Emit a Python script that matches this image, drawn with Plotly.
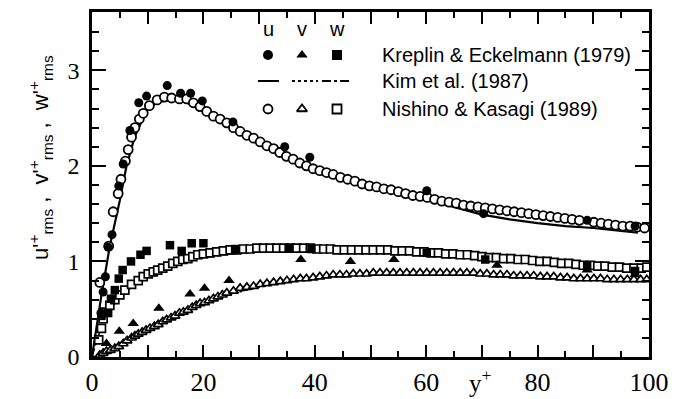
import plotly.graph_objects as go

# ---------------- data ----------------
# Kreplin & Eckelmann (1979) - filled symbols
ke_u_x = [1.6, 2.0, 2.4, 2.9, 3.6, 4.8, 5.6, 6.8, 8.4, 9.8, 13.5, 15.9, 17.7, 19.8, 25.3, 34.6, 39.1, 60.1, 70.3, 88.9, 97.5]
ke_u_y = [0.46, 0.68, 0.84, 1.15, 1.28, 1.79, 2.02, 2.37, 2.66, 2.73, 2.84, 2.76, 2.76, 2.68, 2.46, 2.20, 2.09, 1.74, 1.50, 1.43, 1.37]
ke_v_x = [2.6, 4.9, 7.4, 12.0, 17.6, 20.2, 24.6, 37.5, 46.4, 54.2, 72.7, 88.9, 97.5]
ke_v_y = [0.14, 0.27, 0.35, 0.51, 0.66, 0.72, 0.80, 1.02, 1.00, 1.02, 0.96, 0.91, 0.86]
ke_w_x = [1.7, 2.9, 3.4, 4.1, 4.8, 5.5, 7.0, 8.7, 9.8, 14.0, 16.1, 17.9, 20.0, 25.7, 35.3, 39.4, 60.1, 70.6, 88.9, 97.5]
ke_w_y = [0.43, 0.46, 0.61, 0.70, 0.82, 0.91, 1.00, 1.07, 1.11, 1.17, 1.11, 1.19, 1.19, 1.13, 1.14, 1.13, 1.09, 1.02, 0.95, 0.90]

# Kim et al. (1987) - lines
kim_u_x = [0, 0.8, 1.7, 3.2, 5.0, 6.2, 7.7, 9.8, 11.8, 14.2, 16.0, 18.0, 20.0, 25.0, 30.0, 35.0, 40.0, 45.0, 50.0, 55.0, 60.0, 65.0, 70.0, 75.0, 80.0, 85.0, 90.0, 95.0, 98.0]
kim_u_y = [0, 0.30, 0.65, 1.16, 1.64, 2.00, 2.31, 2.58, 2.67, 2.69, 2.68, 2.64, 2.58, 2.40, 2.24, 2.10, 1.98, 1.88, 1.80, 1.73, 1.65, 1.57, 1.49, 1.44, 1.40, 1.37, 1.35, 1.32, 1.30]
kim_v_x = [0, 2, 5, 10, 15, 20, 25, 30, 40, 50, 60, 70, 80, 90, 98]
kim_v_y = [0, 0.03, 0.12, 0.30, 0.45, 0.56, 0.66, 0.73, 0.83, 0.87, 0.88, 0.87, 0.85, 0.82, 0.79]
kim_w_x = [0, 1, 2, 4, 6, 8, 10, 15, 20, 25, 30, 40, 50, 60, 70, 80, 90, 98]
kim_w_y = [0, 0.20, 0.35, 0.55, 0.68, 0.77, 0.84, 0.96, 1.04, 1.08, 1.10, 1.11, 1.10, 1.08, 1.04, 1.00, 0.96, 0.92]

# Nishino & Kasagi (1989) - open symbols
nk_u_x = [1.4, 3.0, 3.8, 4.7, 5.2, 6.0, 6.5, 7.1, 7.7, 8.5, 9.2, 10.3, 11.7, 13.0, 14.3, 15.7, 17.0, 18.2, 19.4, 20.6,
          21.8, 23.0, 24.2, 25.4, 26.6, 27.8, 29.0, 30.2, 31.4, 32.6, 33.7, 34.9, 36.1, 37.3, 38.5, 39.7, 40.9, 42.1,
          43.3, 44.6, 45.9, 47.2, 48.5, 49.8, 51.1, 52.4, 53.7, 55.0, 56.3, 57.6, 58.9, 60.2, 61.5, 62.8, 64.1, 65.4,
          66.7, 68.0, 69.3, 70.6, 71.9, 73.2, 74.5, 75.8, 77.1, 78.4, 79.7, 81.0, 82.3, 83.6, 84.9, 86.2, 87.5, 90.1,
          91.4, 92.7, 94.0, 95.3, 96.6, 97.9, 99.2]
nk_u_y = [0.78, 1.16, 1.52, 1.71, 1.86, 2.05, 2.17, 2.30, 2.40, 2.49, 2.55, 2.63, 2.69, 2.72, 2.71, 2.70, 2.70, 2.66, 2.62, 2.57,
          2.52, 2.49, 2.45, 2.40, 2.36, 2.32, 2.29, 2.25, 2.21, 2.18, 2.14, 2.10, 2.07, 2.03, 2.00, 1.97, 1.95, 1.93,
          1.91, 1.88, 1.86, 1.84, 1.81, 1.79, 1.78, 1.76, 1.75, 1.73, 1.71, 1.69, 1.68, 1.67, 1.65, 1.63, 1.62, 1.61,
          1.59, 1.58, 1.57, 1.56, 1.55, 1.54, 1.53, 1.52, 1.51, 1.50, 1.49, 1.48, 1.47, 1.46, 1.45, 1.44, 1.43, 1.41,
          1.40, 1.39, 1.38, 1.37, 1.37, 1.36, 1.35]
nk_v_x = [1.4, 2.0, 2.6, 3.3, 4.1, 4.8, 5.6, 6.3, 7.1, 7.7, 8.3, 9.0, 9.7, 10.4, 11.2, 11.9, 12.7, 13.4, 14.2, 14.9,
          15.7, 16.4, 17.2, 18.0, 18.7, 19.4, 20.2, 21.0, 21.8, 22.6, 23.4, 24.2, 25.4, 26.6, 27.8, 29.0, 30.2, 31.4,
          32.6, 33.8, 35.0, 36.2, 37.4, 38.5, 39.7, 40.9, 42.1, 43.3, 44.5, 45.7, 46.9, 48.1, 49.3, 50.5, 51.7, 52.9,
          54.1, 55.3, 56.5, 57.7, 58.9, 60.1, 61.3, 62.5, 63.7, 64.9, 66.1, 67.3, 68.5, 69.7, 70.9, 72.1, 73.3, 74.5,
          75.7, 76.9, 78.1, 79.3, 80.5, 81.7, 82.9, 84.1, 85.3, 86.5, 87.7, 88.9, 90.1, 91.3, 92.5, 93.7, 94.9, 96.1,
          97.3, 98.5, 99.6]
nk_v_y = [0.02, 0.04, 0.06, 0.07, 0.09, 0.11, 0.14, 0.17, 0.20, 0.22, 0.24, 0.26, 0.28, 0.30, 0.32, 0.34, 0.37, 0.39, 0.41, 0.43,
          0.46, 0.47, 0.49, 0.52, 0.54, 0.56, 0.57, 0.59, 0.61, 0.63, 0.65, 0.67, 0.69, 0.72, 0.73, 0.74, 0.76, 0.77,
          0.78, 0.79, 0.80, 0.81, 0.82, 0.82, 0.83, 0.84, 0.85, 0.86, 0.86, 0.86, 0.87, 0.87, 0.87, 0.88, 0.88, 0.88,
          0.88, 0.88, 0.88, 0.88, 0.88, 0.88, 0.88, 0.88, 0.88, 0.88, 0.88, 0.88, 0.88, 0.87, 0.87, 0.86, 0.86, 0.86,
          0.85, 0.85, 0.85, 0.85, 0.84, 0.84, 0.84, 0.83, 0.83, 0.82, 0.82, 0.82, 0.82, 0.82, 0.81, 0.81, 0.81, 0.81,
          0.81, 0.81, 0.81]
nk_w_x = [1.2, 1.7, 2.0, 2.3, 3.2, 4.1, 5.0, 5.9, 7.1, 8.3, 9.2, 10.1, 11.0, 11.8, 12.7, 13.6, 14.5, 15.4, 16.3, 17.2,
          18.1, 19.0, 20.0, 21.2, 22.4, 23.6, 24.8, 26.0, 27.2, 28.4, 29.6, 30.8, 32.0, 33.2, 34.4, 35.6, 36.8, 38.0,
          39.2, 40.4, 41.6, 42.8, 44.0, 45.3, 46.6, 47.9, 49.2, 50.5, 51.8, 53.1, 54.4, 55.7, 57.0, 58.3, 59.6, 60.9,
          62.2, 63.5, 64.8, 66.1, 67.4, 68.7, 70.0, 71.3, 72.6, 73.9, 75.2, 76.5, 77.8, 79.1, 80.4, 81.7, 83.0, 84.3,
          85.6, 86.9, 88.2, 89.5, 90.8, 92.1, 93.4, 94.7, 96.0, 97.3, 98.6, 99.6]
nk_w_y = [0.18, 0.30, 0.40, 0.47, 0.54, 0.60, 0.65, 0.70, 0.76, 0.80, 0.84, 0.87, 0.89, 0.91, 0.93, 0.95, 0.98, 1.00, 1.02, 1.03,
          1.05, 1.07, 1.08, 1.09, 1.10, 1.11, 1.12, 1.12, 1.13, 1.13, 1.14, 1.14, 1.14, 1.14, 1.14, 1.14, 1.14, 1.14,
          1.14, 1.13, 1.13, 1.13, 1.12, 1.12, 1.12, 1.12, 1.12, 1.12, 1.12, 1.12, 1.11, 1.11, 1.11, 1.10, 1.10, 1.09,
          1.09, 1.08, 1.08, 1.07, 1.07, 1.06, 1.05, 1.04, 1.04, 1.03, 1.03, 1.02, 1.02, 1.01, 1.00, 1.00, 0.99, 0.98,
          0.98, 0.97, 0.96, 0.96, 0.95, 0.95, 0.94, 0.94, 0.93, 0.93, 0.93, 0.94]

legend_rows = ["Kreplin &amp; Eckelmann (1979)", "Kim et al. (1987)", "Nishino &amp; Kasagi (1989)"]
legend_cols = ["u", "v", "w"]

# ---------------- figure ----------------
W, H = 684, 399
L, R, T, B = 92, 35, 12, 42
pw, ph = W - L - R, H - T - B

def px(xp):
    return (xp - L) / pw

def py(yp):
    return (H - B - yp) / ph

fig = go.Figure()
blk = "black"

# Kim lines
fig.add_trace(go.Scatter(x=kim_v_x, y=kim_v_y, mode="lines", line=dict(color=blk, width=1.5, dash="dot"), showlegend=False))
fig.add_trace(go.Scatter(x=kim_w_x, y=kim_w_y, mode="lines", line=dict(color=blk, width=1.5, dash="dashdot"), showlegend=False))
fig.add_trace(go.Scatter(x=kim_u_x, y=kim_u_y, mode="lines", line=dict(color=blk, width=2.2), showlegend=False))

fig.add_trace(go.Scatter(x=nk_v_x, y=nk_v_y, mode="markers",
                         marker=dict(symbol="triangle-up", color="white", size=8.5, line=dict(color=blk, width=1.7)), showlegend=False))
fig.add_trace(go.Scatter(x=nk_w_x, y=nk_w_y, mode="markers",
                         marker=dict(symbol="square", color="white", size=8, line=dict(color=blk, width=1.7)), showlegend=False))
fig.add_trace(go.Scatter(x=nk_u_x, y=nk_u_y, mode="markers",
                         marker=dict(symbol="circle", color="white", size=9, line=dict(color=blk, width=1.8)), showlegend=False))

fill_m = dict(color=blk, line=dict(color=blk, width=0))
fig.add_trace(go.Scatter(x=ke_u_x, y=ke_u_y, mode="markers", marker=dict(symbol="circle", size=9, **fill_m), showlegend=False))
fig.add_trace(go.Scatter(x=ke_v_x, y=ke_v_y, mode="markers", marker=dict(symbol="triangle-up", size=10, **fill_m), showlegend=False))
fig.add_trace(go.Scatter(x=ke_w_x, y=ke_w_y, mode="markers", marker=dict(symbol="square", size=8.5, **fill_m), showlegend=False))

# legend keys on an overlay axis spanning [0,1] x [0,1]
col_x = [px(268), px(302), px(337)]
row_y = [py(55), py(81), py(109)]
syms = ["circle", "triangle-up", "square"]
for cx, s in zip(col_x, syms):
    fig.add_trace(go.Scatter(x=[cx], y=[row_y[0]], xaxis="x2", yaxis="y2", mode="markers",
                             marker=dict(symbol=s, size=10, color=blk), showlegend=False))
    fig.add_trace(go.Scatter(x=[cx], y=[row_y[2]], xaxis="x2", yaxis="y2", mode="markers",
                             marker=dict(symbol=s, size=9, color="white", line=dict(color=blk, width=1.8)), showlegend=False))
seg = [(258, 279, "solid"), (292, 318, "dot"), (322, 350, "dashdot")]
for a, b, d in seg:
    fig.add_trace(go.Scatter(x=[px(a), px(b)], y=[row_y[1], row_y[1]], xaxis="x2", yaxis="y2", mode="lines",
                             line=dict(color=blk, width=2, dash=d), showlegend=False))

for cx, t in zip(col_x, legend_cols):
    fig.add_annotation(x=cx, y=py(29), xref="paper", yref="paper", text=t, showarrow=False,
                       xanchor="center", yanchor="middle",
                       font=dict(family="Liberation Sans", size=20, color=blk))
for ry, t in zip(row_y, legend_rows):
    fig.add_annotation(x=px(380), y=ry, xref="paper", yref="paper", text=t, showarrow=False,
                       xanchor="left", yanchor="middle", font=dict(family="Liberation Sans", size=20, color=blk))

# axis titles
fig.add_annotation(x=px(481), y=py(381), xref="paper", yref="paper", xanchor="center", yanchor="middle",
                   text="y<sup>+</sup>", showarrow=False,
                   font=dict(family="Liberation Serif", size=25, color=blk))
fig.add_annotation(x=px(40), y=py(158), xref="paper", yref="paper", textangle=-90, showarrow=False,
                   xanchor="center", yanchor="middle",
                   text="u'<sup>+</sup><sub>rms</sub> ,  v'<sup>+</sup><sub>rms</sub> ,  w'<sup>+</sup><sub>rms</sub>",
                   font=dict(family="Liberation Sans", size=22, color=blk))

fig.update_layout(
    width=W, height=H, margin=dict(l=L, r=R, t=T, b=B, autoexpand=False),
    paper_bgcolor="white", plot_bgcolor="white", showlegend=False,
    xaxis=dict(range=[0, 100], showgrid=False, zeroline=False, showline=True, linecolor=blk, linewidth=2.5,
               mirror="ticks", ticks="inside", ticklen=12, tickwidth=1.5, tickcolor=blk,
               tick0=0, dtick=10, ticklabelstep=2, automargin=False,
               tickfont=dict(family="Liberation Serif", size=26, color=blk),
               minor=dict(ticks="inside", ticklen=6, tickwidth=1.5, tickcolor=blk, dtick=5, tick0=0)),
    yaxis=dict(range=[0, 3.61], showgrid=False, zeroline=False, showline=True, linecolor=blk, linewidth=2.5,
               mirror="ticks", ticks="inside", ticklen=14, tickwidth=1.5, tickcolor=blk,
               tick0=0, dtick=1, automargin=False, ticklabelstandoff=5,
               tickfont=dict(family="Liberation Serif", size=24, color=blk),
               minor=dict(ticks="inside", ticklen=7, tickwidth=1.5, tickcolor=blk, dtick=0.2, tick0=0)),
    xaxis2=dict(range=[0, 1], overlaying="x", visible=False, fixedrange=True),
    yaxis2=dict(range=[0, 1], overlaying="y", visible=False, fixedrange=True),
)

fig.write_html("out.html", config={"displayModeBar": False},
               post_script="document.body.style.margin='0';document.body.style.overflow='hidden';")
